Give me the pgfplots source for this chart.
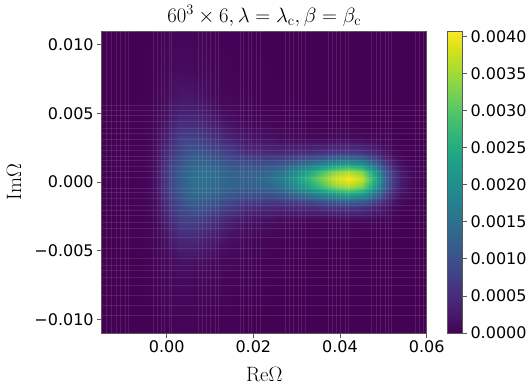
\documentclass[border=0pt]{standalone}
\usepackage[no-math]{fontspec}
\usepackage{pgfplots}
\pgfplotsset{compat=1.18}
\newfontfamily\dejavu{DejaVu Sans}
\definecolor{spine}{gray}{0.35}

\begin{document}
\begin{tikzpicture}
% page is 532x391 with the axis box at 101.7..426.7, 31..333 (1px = 1pt)
\path[use as bounding box] (-101.7pt,-58pt) rectangle (430.3pt,333pt);
\begin{axis}[
    scale only axis,
    width=325pt,
    height=302pt,
    xmin=-0.015, xmax=0.06,
    ymin=-0.011, ymax=0.011,
    scaled ticks=false,
    xtick={0,0.02,0.04,0.06},
    xticklabels={0.00,0.02,0.04,0.06},
    ytick={-0.01,-0.005,0,0.005,0.01},
    yticklabels={−0.010,−0.005,0.000,0.005,0.010},
    tick label style={font=\dejavu\fontsize{16}{18}\selectfont},
    tick align=outside,
    tick pos=left,
    major tick length=4.5pt,
    tick style={spine,line width=0.7pt},
    axis line style={spine,line width=0.8pt},
    title={$60^3\times 6, \lambda=\lambda_{\mathrm{c}}, \beta=\beta_{\mathrm{c}}$},
    title style={font=\fontsize{21.5}{24}\selectfont,at={(0.5,1)},yshift=-5pt},
    xlabel={$\mathrm{Re}\Omega$},
    ylabel={$\mathrm{Im}\Omega$},
    label style={font=\fontsize{22}{24}\selectfont},
    xlabel style={yshift=-3pt},
    ylabel style={yshift=2pt},
    axis on top,
    major grid style={white,opacity=0.1,line width=0.5pt},
    extra x ticks={-0.01385,-0.01269,-0.01154,-0.01077,-0.00962,-0.00885,-0.00308,-0.00215,-0.00115,-0.00054,0.00054,0.00115,0.00731,0.00831,0.00923,0.01015,0.01115,0.01192,0.01692,0.01769,0.01885,0.01962,0.02077,0.02154,0.02731,0.02831,0.02923,0.03038,0.03115,0.03192,0.03731,0.03823,0.03923,0.04015,0.04115,0.04192,0.04731,0.04831,0.04923,0.05038,0.05115,0.05192,0.05731,0.05823,0.05923},
    extra x tick labels={},
    extra x tick style={grid=major,major tick length=0pt},
    extra y ticks={0.00562,0.00526,0.00489,0.00445,0.00394,0.00358,0.00314,0.0027,0.00234,0.0019,0.00161,0.00117,0.0008,0.00036,-0.00044,-0.00073,-0.00117,-0.00168,-0.00204,-0.00241,-0.00292,-0.00336,-0.00401,-0.00482,-0.00555,-0.00606,-0.00642,-0.00693,-0.00752,-0.00825,-0.00898,-0.00971},
    extra y tick labels={},
    extra y tick style={grid=major,major tick length=0pt},
    colormap/viridis,
    point meta min=0,
    point meta max=0.00407,
    colorbar,
    colorbar style={
        at={(parent axis.north east)},
        anchor=north west,
        xshift=12pt,
        scale only axis,
        width=15.3pt,
        height=302pt,
        scaled ticks=false,
        ytick={0,0.0005,0.001,0.0015,0.002,0.0025,0.003,0.0035,0.004},
        yticklabels={0.0000,0.0005,0.0010,0.0015,0.0020,0.0025,0.0030,0.0035,0.0040},
        yticklabel style={font=\dejavu\fontsize{16}{18}\selectfont},
        tick align=outside,
        ytick pos=right,
        major tick length=4.5pt,
        tick style={spine,line width=0.7pt},
        axis line style={spine,line width=0.8pt},
    },
]
% x and y in 1e-3, c in 1e-4
\addplot[surf, shader=interp, mesh/cols=24, point meta=explicit] table[
    row sep=\\,
    x expr=\thisrow{x}*0.001,
    y expr=\thisrow{y}*0.001,
    meta expr=\thisrow{c}*0.0001,
] {
x y c\\
-15 -11 .1\\ -6 -11 .1\\ -3 -11 .1\\ 0 -11 .2\\ 3 -11 .3\\ 6 -11 .3\\ 9 -11 .2\\ 12 -11 .2\\ 15 -11 .2\\ 18 -11 .1\\ 21 -11 .1\\ 24 -11 .1\\ 27 -11 .1\\ 30 -11 .1\\ 33 -11 .1\\ 36 -11 .1\\ 39 -11 .1\\ 42 -11 .1\\ 45 -11 .1\\ 48 -11 .1\\ 51 -11 .1\\ 54 -11 .1\\ 57 -11 .1\\ 60 -11 .1\\
-15 -7.8 .1\\ -6 -7.8 .1\\ -3 -7.8 .2\\ 0 -7.8 .5\\ 3 -7.8 .7\\ 6 -7.8 .6\\ 9 -7.8 .5\\ 12 -7.8 .4\\ 15 -7.8 .3\\ 18 -7.8 .2\\ 21 -7.8 .2\\ 24 -7.8 .1\\ 27 -7.8 .1\\ 30 -7.8 .1\\ 33 -7.8 .1\\ 36 -7.8 .1\\ 39 -7.8 .1\\ 42 -7.8 .1\\ 45 -7.8 .1\\ 48 -7.8 .1\\ 51 -7.8 .1\\ 54 -7.8 .1\\ 57 -7.8 .1\\ 60 -7.8 .1\\
-15 -5.8 .1\\ -6 -5.8 .1\\ -3 -5.8 .3\\ 0 -5.8 1\\ 3 -5.8 1.7\\ 6 -5.8 1.5\\ 9 -5.8 1.1\\ 12 -5.8 .8\\ 15 -5.8 .6\\ 18 -5.8 .4\\ 21 -5.8 .3\\ 24 -5.8 .2\\ 27 -5.8 .2\\ 30 -5.8 .1\\ 33 -5.8 .1\\ 36 -5.8 .1\\ 39 -5.8 .1\\ 42 -5.8 .1\\ 45 -5.8 .1\\ 48 -5.8 .1\\ 51 -5.8 .1\\ 54 -5.8 .1\\ 57 -5.8 .1\\ 60 -5.8 .1\\
-15 -4.8 .1\\ -6 -4.8 .2\\ -3 -4.8 .4\\ 0 -4.8 1.5\\ 3 -4.8 3.5\\ 6 -4.8 3.3\\ 9 -4.8 2.4\\ 12 -4.8 1.4\\ 15 -4.8 1\\ 18 -4.8 .7\\ 21 -4.8 .5\\ 24 -4.8 .3\\ 27 -4.8 .2\\ 30 -4.8 .2\\ 33 -4.8 .2\\ 36 -4.8 .1\\ 39 -4.8 .1\\ 42 -4.8 .1\\ 45 -4.8 .1\\ 48 -4.8 .1\\ 51 -4.8 .1\\ 54 -4.8 .1\\ 57 -4.8 .1\\ 60 -4.8 .1\\
-15 -3.8 .1\\ -6 -3.8 .2\\ -3 -3.8 .5\\ 0 -3.8 2.4\\ 3 -3.8 5.2\\ 6 -3.8 5.2\\ 9 -3.8 4\\ 12 -3.8 3\\ 15 -3.8 1.6\\ 18 -3.8 1.1\\ 21 -3.8 .8\\ 24 -3.8 .6\\ 27 -3.8 .4\\ 30 -3.8 .3\\ 33 -3.8 .2\\ 36 -3.8 .2\\ 39 -3.8 .2\\ 42 -3.8 .2\\ 45 -3.8 .1\\ 48 -3.8 .1\\ 51 -3.8 .1\\ 54 -3.8 .1\\ 57 -3.8 .1\\ 60 -3.8 .1\\
-15 -2.8 .1\\ -6 -2.8 .2\\ -3 -2.8 .7\\ 0 -2.8 3.6\\ 3 -2.8 7.5\\ 6 -2.8 8\\ 9 -2.8 6.5\\ 12 -2.8 5\\ 15 -2.8 3.5\\ 18 -2.8 2.2\\ 21 -2.8 1.8\\ 24 -2.8 1.5\\ 27 -2.8 1\\ 30 -2.8 .8\\ 33 -2.8 .7\\ 36 -2.8 .8\\ 39 -2.8 .9\\ 42 -2.8 1\\ 45 -2.8 .8\\ 48 -2.8 .6\\ 51 -2.8 .4\\ 54 -2.8 .1\\ 57 -2.8 .1\\ 60 -2.8 .1\\
-15 -1.8 .1\\ -6 -1.8 .3\\ -3 -1.8 .9\\ 0 -1.8 5\\ 3 -1.8 8.8\\ 6 -1.8 11\\ 9 -1.8 10\\ 12 -1.8 8.5\\ 15 -1.8 7\\ 18 -1.8 5\\ 21 -1.8 4.8\\ 24 -1.8 4.5\\ 27 -1.8 4.3\\ 30 -1.8 4.5\\ 33 -1.8 5\\ 36 -1.8 5.5\\ 39 -1.8 6.1\\ 42 -1.8 6.5\\ 45 -1.8 5.9\\ 48 -1.8 4\\ 51 -1.8 1.6\\ 54 -1.8 .4\\ 57 -1.8 .2\\ 60 -1.8 .1\\
-15 -1.3 .1\\ -6 -1.3 .3\\ -3 -1.3 1\\ 0 -1.3 5.7\\ 3 -1.3 10\\ 6 -1.3 12.5\\ 9 -1.3 12\\ 12 -1.3 10.5\\ 15 -1.3 9\\ 18 -1.3 8\\ 21 -1.3 7.8\\ 24 -1.3 7.5\\ 27 -1.3 8\\ 30 -1.3 9\\ 33 -1.3 10.5\\ 36 -1.3 12\\ 39 -1.3 13.7\\ 42 -1.3 14.6\\ 45 -1.3 13.3\\ 48 -1.3 9\\ 51 -1.3 3.6\\ 54 -1.3 .9\\ 57 -1.3 .3\\ 60 -1.3 .1\\
-15 -.8 .1\\ -6 -.8 .3\\ -3 -.8 1.1\\ 0 -.8 6.3\\ 3 -.8 11\\ 6 -.8 13.8\\ 9 -.8 13.8\\ 12 -.8 12.3\\ 15 -.8 11\\ 18 -.8 10.5\\ 21 -.8 10.5\\ 24 -.8 11\\ 27 -.8 12.5\\ 30 -.8 15\\ 33 -.8 18\\ 36 -.8 21\\ 39 -.8 24\\ 42 -.8 25.7\\ 45 -.8 23.5\\ 48 -.8 16\\ 51 -.8 6.3\\ 54 -.8 1.8\\ 57 -.8 .5\\ 60 -.8 .2\\
-15 -.3 .1\\ -6 -.3 .3\\ -3 -.3 1.2\\ 0 -.3 6.8\\ 3 -.3 11.8\\ 6 -.3 14.5\\ 9 -.3 14.7\\ 12 -.3 13.5\\ 15 -.3 12.5\\ 18 -.3 12\\ 21 -.3 12.5\\ 24 -.3 13.5\\ 27 -.3 16\\ 30 -.3 20\\ 33 -.3 24.5\\ 36 -.3 29.5\\ 39 -.3 34\\ 42 -.3 36\\ 45 -.3 33\\ 48 -.3 22\\ 51 -.3 9\\ 54 -.3 2.7\\ 57 -.3 .7\\ 60 -.3 .2\\
-15 .2 .2\\ -6 .2 .3\\ -3 .2 1.2\\ 0 .2 7\\ 3 .2 12\\ 6 .2 15\\ 9 .2 15\\ 12 .2 14\\ 15 .2 13\\ 18 .2 12.5\\ 21 .2 13.5\\ 24 .2 15\\ 27 .2 18\\ 30 .2 22.5\\ 33 .2 27.5\\ 36 .2 33\\ 39 .2 38\\ 42 .2 40.5\\ 45 .2 37\\ 48 .2 25\\ 51 .2 10\\ 54 .2 3\\ 57 .2 .8\\ 60 .2 .2\\
-15 .7 .1\\ -6 .7 .3\\ -3 .7 1.2\\ 0 .7 6.8\\ 3 .7 11.8\\ 6 .7 14.5\\ 9 .7 14.7\\ 12 .7 13.5\\ 15 .7 12.5\\ 18 .7 12\\ 21 .7 12.5\\ 24 .7 13.5\\ 27 .7 16\\ 30 .7 20\\ 33 .7 24.5\\ 36 .7 29.5\\ 39 .7 34\\ 42 .7 36\\ 45 .7 33\\ 48 .7 22\\ 51 .7 9\\ 54 .7 2.7\\ 57 .7 .7\\ 60 .7 .2\\
-15 1.2 .1\\ -6 1.2 .3\\ -3 1.2 1.1\\ 0 1.2 6.3\\ 3 1.2 11\\ 6 1.2 13.8\\ 9 1.2 13.8\\ 12 1.2 12.3\\ 15 1.2 11\\ 18 1.2 10.5\\ 21 1.2 10.5\\ 24 1.2 11\\ 27 1.2 12.5\\ 30 1.2 15\\ 33 1.2 18\\ 36 1.2 21\\ 39 1.2 24\\ 42 1.2 25.7\\ 45 1.2 23.5\\ 48 1.2 16\\ 51 1.2 6.3\\ 54 1.2 1.8\\ 57 1.2 .5\\ 60 1.2 .2\\
-15 1.7 .1\\ -6 1.7 .3\\ -3 1.7 1\\ 0 1.7 5.7\\ 3 1.7 10\\ 6 1.7 12.5\\ 9 1.7 12\\ 12 1.7 10.5\\ 15 1.7 9\\ 18 1.7 8\\ 21 1.7 7.8\\ 24 1.7 7.5\\ 27 1.7 8\\ 30 1.7 9\\ 33 1.7 10.5\\ 36 1.7 12\\ 39 1.7 13.7\\ 42 1.7 14.6\\ 45 1.7 13.3\\ 48 1.7 9\\ 51 1.7 3.6\\ 54 1.7 .9\\ 57 1.7 .3\\ 60 1.7 .1\\
-15 2.2 .1\\ -6 2.2 .3\\ -3 2.2 .9\\ 0 2.2 5\\ 3 2.2 8.8\\ 6 2.2 11\\ 9 2.2 10\\ 12 2.2 8.5\\ 15 2.2 7\\ 18 2.2 5\\ 21 2.2 4.8\\ 24 2.2 4.5\\ 27 2.2 4.3\\ 30 2.2 4.5\\ 33 2.2 5\\ 36 2.2 5.5\\ 39 2.2 6.1\\ 42 2.2 6.5\\ 45 2.2 5.9\\ 48 2.2 4\\ 51 2.2 1.6\\ 54 2.2 .4\\ 57 2.2 .2\\ 60 2.2 .1\\
-15 3.2 .1\\ -6 3.2 .2\\ -3 3.2 .7\\ 0 3.2 3.6\\ 3 3.2 7.5\\ 6 3.2 8\\ 9 3.2 6.5\\ 12 3.2 5\\ 15 3.2 3.5\\ 18 3.2 2.2\\ 21 3.2 1.8\\ 24 3.2 1.5\\ 27 3.2 1\\ 30 3.2 .8\\ 33 3.2 .7\\ 36 3.2 .8\\ 39 3.2 .9\\ 42 3.2 1\\ 45 3.2 .8\\ 48 3.2 .6\\ 51 3.2 .4\\ 54 3.2 .1\\ 57 3.2 .1\\ 60 3.2 .1\\
-15 4.2 .1\\ -6 4.2 .2\\ -3 4.2 .5\\ 0 4.2 2.4\\ 3 4.2 5.2\\ 6 4.2 5.2\\ 9 4.2 4\\ 12 4.2 3\\ 15 4.2 1.6\\ 18 4.2 1.1\\ 21 4.2 .8\\ 24 4.2 .6\\ 27 4.2 .4\\ 30 4.2 .3\\ 33 4.2 .2\\ 36 4.2 .2\\ 39 4.2 .2\\ 42 4.2 .2\\ 45 4.2 .1\\ 48 4.2 .1\\ 51 4.2 .1\\ 54 4.2 .1\\ 57 4.2 .1\\ 60 4.2 .1\\
-15 5.2 .1\\ -6 5.2 .2\\ -3 5.2 .4\\ 0 5.2 1.6\\ 3 5.2 3.5\\ 6 5.2 3.5\\ 9 5.2 2.5\\ 12 5.2 1.4\\ 15 5.2 1\\ 18 5.2 .7\\ 21 5.2 .5\\ 24 5.2 .3\\ 27 5.2 .2\\ 30 5.2 .2\\ 33 5.2 .2\\ 36 5.2 .1\\ 39 5.2 .1\\ 42 5.2 .1\\ 45 5.2 .1\\ 48 5.2 .1\\ 51 5.2 .1\\ 54 5.2 .1\\ 57 5.2 .1\\ 60 5.2 .1\\
-15 6.2 .1\\ -6 6.2 .1\\ -3 6.2 .3\\ 0 6.2 1.1\\ 3 6.2 2.5\\ 6 6.2 2.3\\ 9 6.2 1.5\\ 12 6.2 .8\\ 15 6.2 .6\\ 18 6.2 .4\\ 21 6.2 .3\\ 24 6.2 .2\\ 27 6.2 .2\\ 30 6.2 .1\\ 33 6.2 .1\\ 36 6.2 .1\\ 39 6.2 .1\\ 42 6.2 .1\\ 45 6.2 .1\\ 48 6.2 .1\\ 51 6.2 .1\\ 54 6.2 .1\\ 57 6.2 .1\\ 60 6.2 .1\\
-15 8.2 .1\\ -6 8.2 .1\\ -3 8.2 .2\\ 0 8.2 .6\\ 3 8.2 1.2\\ 6 8.2 1\\ 9 8.2 .7\\ 12 8.2 .4\\ 15 8.2 .3\\ 18 8.2 .2\\ 21 8.2 .2\\ 24 8.2 .1\\ 27 8.2 .1\\ 30 8.2 .1\\ 33 8.2 .1\\ 36 8.2 .1\\ 39 8.2 .1\\ 42 8.2 .1\\ 45 8.2 .1\\ 48 8.2 .1\\ 51 8.2 .1\\ 54 8.2 .1\\ 57 8.2 .1\\ 60 8.2 .1\\
-15 11 .1\\ -6 11 .1\\ -3 11 .1\\ 0 11 .2\\ 3 11 .4\\ 6 11 .4\\ 9 11 .3\\ 12 11 .2\\ 15 11 .2\\ 18 11 .1\\ 21 11 .1\\ 24 11 .1\\ 27 11 .1\\ 30 11 .1\\ 33 11 .1\\ 36 11 .1\\ 39 11 .1\\ 42 11 .1\\ 45 11 .1\\ 48 11 .1\\ 51 11 .1\\ 54 11 .1\\ 57 11 .1\\ 60 11 .1\\
};
\end{axis}
\end{tikzpicture}
\end{document}
